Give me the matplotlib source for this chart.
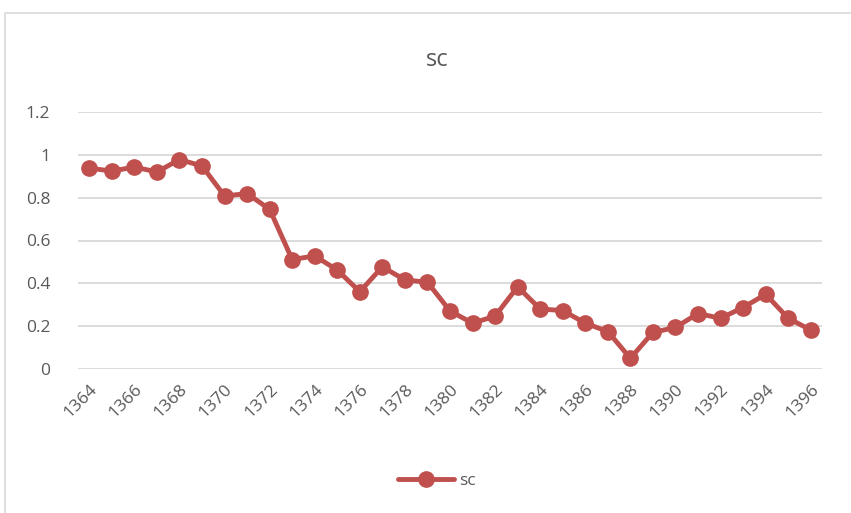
import matplotlib.pyplot as plt
from matplotlib.patches import Rectangle

years = list(range(1364, 1397))
sc = [0.938, 0.924, 0.943, 0.920, 0.978, 0.948, 0.808, 0.819, 0.746, 0.511, 0.528, 0.462,
      0.361, 0.477, 0.416, 0.405, 0.271, 0.214, 0.247, 0.384, 0.280, 0.273, 0.214, 0.175,
      0.050, 0.171, 0.194, 0.259, 0.237, 0.287, 0.349, 0.237, 0.182]
y_ticks = [0, 0.2, 0.4, 0.6, 0.8, 1, 1.2]
y_labels = ["0", "0.2", "0.4", "0.6", "0.8", "1", "1.2"]

plt.rcParams['font.family'] = ['Open Sans', 'DejaVu Sans']
text_color = "#595959"

fig = plt.figure(figsize=(8.51, 5.13), dpi=100)
# chart area border
fig.patches.append(Rectangle((5 / 851, -0.1), 1.0, 1 - 13 / 513 + 0.1, transform=fig.transFigure,
                             fill=False, edgecolor="#D9D9D9", linewidth=1.2))

ax = fig.add_axes([78 / 851, 1 - 369 / 513, 744 / 851, 257 / 513])
x = list(range(len(years)))
ax.plot(x, sc, color="#C0504D", linewidth=3.5, marker="o", markersize=11,
        label="sc", solid_capstyle="round", zorder=3)

ax.set_xlim(-0.5, len(years) - 0.5)
ax.set_ylim(0, 1.2)
ax.set_yticks(y_ticks)
ax.set_yticklabels(y_labels, fontsize=12.5, color=text_color)
ax.yaxis.grid(True, color="#D9D9D9", linewidth=1.3)
ax.set_axisbelow(True)

ax.set_xticks(x[::2])
ax.set_xticklabels([str(y) for y in years[::2]], rotation=45, ha="right",
                   rotation_mode="anchor", fontsize=12.5, color=text_color)
ax.tick_params(axis="both", length=0)
ax.tick_params(axis="x", pad=9)
ax.tick_params(axis="y", pad=20)
for s in ax.spines.values():
    s.set_visible(False)

fig.text(437 / 851, 1 - 60 / 513, "sc", ha="center", va="center", fontsize=17, color=text_color)

fig.legend(loc="center", bbox_to_anchor=(437 / 851, 1 - 481 / 513), frameon=False,
           fontsize=12.5, labelcolor=text_color, handlelength=3.2, handletextpad=0.3)

fig.savefig("out.png", dpi=100)
